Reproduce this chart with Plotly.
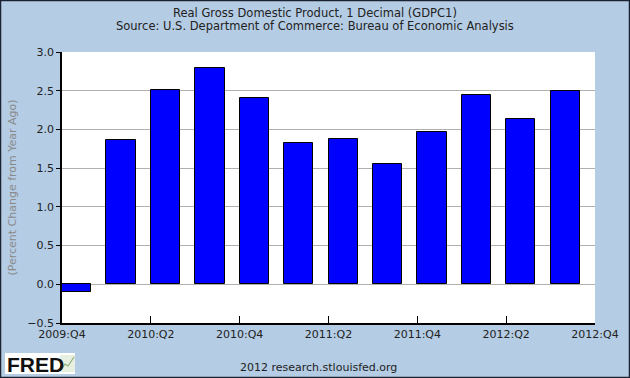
import plotly.graph_objects as go

quarters = ["2009:Q4", "2010:Q1", "2010:Q2", "2010:Q3", "2010:Q4", "2011:Q1",
            "2011:Q2", "2011:Q3", "2011:Q4", "2012:Q1", "2012:Q2", "2012:Q3"]
values = [-0.1, 1.86, 2.51, 2.79, 2.40, 1.82, 1.87, 1.55, 1.97, 2.44, 2.13, 2.49]
tick_labels = ["2009:Q4", "2010:Q2", "2010:Q4", "2011:Q2", "2011:Q4", "2012:Q2", "2012:Q4"]
y_ticks = [-0.5, 0.0, 0.5, 1.0, 1.5, 2.0, 2.5, 3.0]

BG = "#b4cce4"
FONT = "DejaVu Sans"

x_idx = list(range(len(quarters)))
tick_pos = [i * 2 for i in range(len(tick_labels))]

fig = go.Figure()
fig.add_trace(go.Bar(
    x=x_idx, y=values, width=0.66, offset=0,
    marker=dict(color="#0000ff", line=dict(color="#000000", width=1)),
    hovertext=quarters, showlegend=False,
))

L, R, T, B = 62, 35, 52, 55
W, H = 630, 378
pw, ph = W - L - R, H - T - B

def px_x(p):
    return (p - L) / pw

def px_y(p):
    return (H - B - p) / ph

fig.update_layout(
    width=W, height=H,
    margin=dict(l=L, r=R, t=T, b=B),
    paper_bgcolor=BG, plot_bgcolor="#ffffff",
    font=dict(family=FONT, size=11, color="#222222"),
    bargap=0,
    xaxis=dict(
        range=[0, 12], tickmode="array", tickvals=tick_pos, ticktext=tick_labels,
        ticks="inside", ticklen=7, tickcolor="#000000", tickwidth=1,
        showline=True, linecolor="#000000", linewidth=1.5,
        showgrid=False, zeroline=False, fixedrange=True,
        tickfont=dict(family=FONT, size=11, color="#222222"),
    ),
    yaxis=dict(
        range=[-0.5, 3.0], tickmode="array", tickvals=y_ticks,
        tickformat=".1f", ticks="outside", ticklen=4, tickcolor="#000000",
        showline=True, linecolor="#000000", linewidth=1.5,
        showgrid=True, gridcolor="#b0b0b0", gridwidth=1,
        zeroline=False, fixedrange=True,
        tickfont=dict(family=FONT, size=11, color="#222222"),
        title=dict(text="(Percent Change from Year Ago)",
                   font=dict(family=FONT, size=11, color="#8a8a8a"), standoff=8),
    ),
    annotations=[
        dict(text="Real Gross Domestic Product, 1 Decimal (GDPC1)", xref="paper", yref="paper",
             x=px_x(315), y=px_y(13), showarrow=False, xanchor="center", yanchor="middle",
             font=dict(family=FONT, size=11.5, color="#222222")),
        dict(text="Source: U.S. Department of Commerce: Bureau of Economic Analysis",
             xref="paper", yref="paper", x=px_x(315), y=px_y(26), showarrow=False,
             xanchor="center", yanchor="middle",
             font=dict(family=FONT, size=11.5, color="#222222")),
        dict(text="2012 research.stlouisfed.org", xref="paper", yref="paper",
             x=px_x(318), y=px_y(367), showarrow=False, xanchor="center", yanchor="middle",
             font=dict(family=FONT, size=11, color="#222222")),
        dict(text="<b>FRED</b>", xref="paper", yref="paper",
             x=px_x(5), y=px_y(364), showarrow=False, xanchor="left", yanchor="middle",
             font=dict(family="Liberation Sans", size=21, color="#111111")),
    ],
    shapes=[
        dict(type="rect", xref="paper", yref="paper", x0=px_x(5), x1=px_x(75),
             y0=px_y(374), y1=px_y(353), fillcolor="#ffffff", line=dict(width=0), layer="below"),
        dict(type="rect", xref="paper", yref="paper", x0=px_x(60), x1=px_x(75),
             y0=px_y(372), y1=px_y(355), fillcolor="#e6efe0", line=dict(width=0)),
        dict(type="path", xref="paper", yref="paper",
             path="M {} {} L {} {} L {} {} L {} {}".format(px_x(61), px_y(370), px_x(65), px_y(364),
                                                      px_x(68), px_y(366), px_x(74), px_y(357)),
             line=dict(color="#8fb07a", width=1.2)),
        dict(type="rect", xref="paper", yref="paper", x0=px_x(0.5), x1=px_x(629.5),
             y0=px_y(377.5), y1=px_y(0.5), line=dict(color="#1a2230", width=1.5)),
    ],
)

fig.write_html("out.html", config={"displayModeBar": False},
               post_script="document.body.style.margin='0';document.body.style.overflow='hidden';")
